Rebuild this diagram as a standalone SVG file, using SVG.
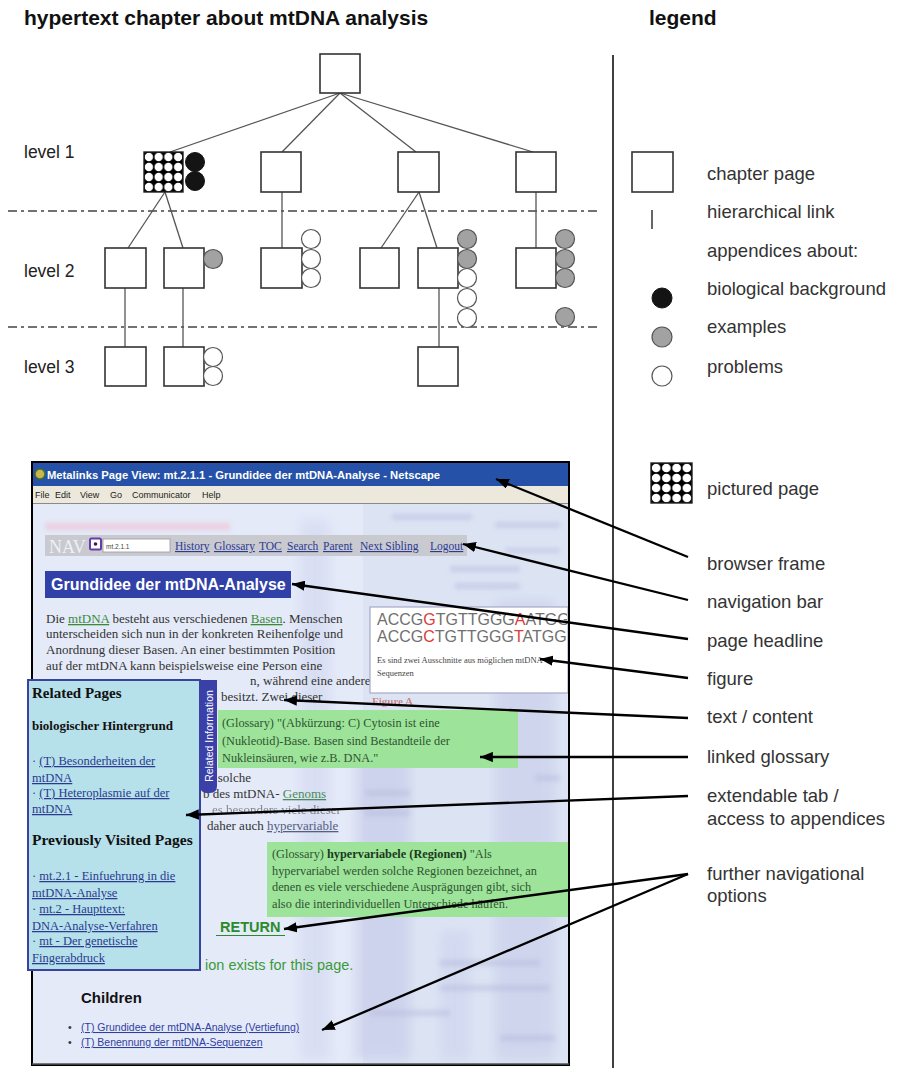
<svg xmlns="http://www.w3.org/2000/svg" width="898" height="1068" viewBox="0 0 898 1068">
<defs>
<style>
.box{fill:#fff;stroke:#333;stroke-width:1.6}
.chk{fill:url(#chk);stroke:#222;stroke-width:1.4}
.lnk{stroke:#555;stroke-width:1.3;fill:none}
.dash{stroke:#444;stroke-width:1.6;stroke-dasharray:9 4 3 4;fill:none}
.bio{fill:#141414;stroke:#141414;stroke-width:1}
.ex{fill:#a2a2a2;stroke:#555;stroke-width:1.2}
.pr{fill:#fff;stroke:#555;stroke-width:1.2}
.ttl{font-family:"Liberation Sans",Arial,sans-serif;font-weight:bold;font-size:21px;fill:#111}
.lvl{font-family:"Liberation Sans",Arial,sans-serif;font-size:17.5px;fill:#222}
.lbl{font-family:"Liberation Sans",Arial,sans-serif;font-size:18.5px;fill:#333}
.arr{stroke:#000;stroke-width:2.3;fill:none;marker-end:url(#ah)}
.ser{font-family:"Liberation Serif","Times New Roman",serif}
.san{font-family:"Liberation Sans",Arial,sans-serif}
.para{font-family:"Liberation Serif","Times New Roman",serif;font-size:13px;fill:#333}
.gl{font-family:"Liberation Serif","Times New Roman",serif;font-size:12.3px;fill:#2d5530}
.rel{font-family:"Liberation Serif","Times New Roman",serif;font-size:12.5px;fill:#2a3a90}
.u{text-decoration:underline}
.navl{font-family:"Liberation Serif","Times New Roman",serif;font-size:11.5px;fill:#2a3a90;text-decoration:underline}
</style>
<pattern id="chk" patternUnits="objectBoundingBox" patternContentUnits="objectBoundingBox" width="0.25" height="0.25">
<rect x="0" y="0" width="0.25" height="0.25" fill="#000"/>
<circle cx="0.125" cy="0.125" r="0.106" fill="#fff"/>
</pattern>
<marker id="ah" viewBox="0 0 10 8" refX="10" refY="4" markerWidth="5.6" markerHeight="4.5" orient="auto">
<path d="M0,0 L10,4 L0,8 z" fill="#000"/>
</marker>
<filter id="blur" x="-20%" y="-50%" width="140%" height="200%"><feGaussianBlur stdDeviation="2.5"/></filter>
<filter id="blur2" x="-20%" y="-20%" width="140%" height="140%"><feGaussianBlur stdDeviation="6"/></filter>
<clipPath id="figclip"><rect x="371" y="608" width="196" height="84"/></clipPath>
<clipPath id="winclip"><rect x="33" y="463" width="535" height="601"/></clipPath>
</defs>
<rect x="0" y="0" width="898" height="1068" fill="#fff"/>

<!-- headings -->
<text class="ttl" x="24" y="25">hypertext chapter about mtDNA analysis</text>
<text class="ttl" x="649" y="25">legend</text>
<text class="lvl" x="24" y="158">level 1</text>
<text class="lvl" x="24" y="277">level 2</text>
<text class="lvl" x="24" y="373">level 3</text>

<!-- level separators -->
<g id="separators">
<line class="dash" x1="8" y1="211" x2="598" y2="211"/>
<line class="dash" x1="8" y1="327" x2="598" y2="327"/>
</g>

<!-- hierarchical links -->
<g id="links">
<line class="lnk" x1="340" y1="93" x2="170" y2="152"/>
<line class="lnk" x1="340" y1="93" x2="282" y2="152"/>
<line class="lnk" x1="340" y1="93" x2="416" y2="152"/>
<line class="lnk" x1="340" y1="93" x2="533" y2="152"/>
<line class="lnk" x1="165" y1="192" x2="128" y2="248"/>
<line class="lnk" x1="165" y1="192" x2="183" y2="248"/>
<line class="lnk" x1="282" y1="192" x2="282" y2="248"/>
<line class="lnk" x1="419" y1="192" x2="381" y2="248"/>
<line class="lnk" x1="419" y1="192" x2="437" y2="248"/>
<line class="lnk" x1="536" y1="192" x2="536" y2="248"/>
<line class="lnk" x1="125" y1="288" x2="125" y2="347"/>
<line class="lnk" x1="183" y1="288" x2="183" y2="347"/>
<line class="lnk" x1="439" y1="288" x2="439" y2="347"/>
</g>

<!-- nodes -->
<g id="root"><rect class="box" x="320" y="54" width="40" height="39"/></g>
<g id="l1a"><rect class="chk" x="144" y="152" width="39" height="40"/>
<circle class="bio" cx="195" cy="162" r="9.5"/><circle class="bio" cx="195" cy="181" r="9.5"/></g>
<g id="l1b"><rect class="box" x="261" y="152" width="40" height="40"/></g>
<g id="l1c"><rect class="box" x="398" y="152" width="41" height="40"/></g>
<g id="l1d"><rect class="box" x="516" y="152" width="40" height="40"/></g>

<g id="l2a"><rect class="box" x="105" y="248" width="41" height="40"/></g>
<g id="l2b"><rect class="box" x="164" y="248" width="40" height="40"/>
<circle class="ex" cx="213" cy="259" r="9.5"/></g>
<g id="l2c"><rect class="box" x="261" y="248" width="41" height="40"/>
<circle class="pr" cx="311" cy="239" r="9.5"/><circle class="pr" cx="311" cy="259" r="9.5"/><circle class="pr" cx="311" cy="278" r="9.5"/></g>
<g id="l2d"><rect class="box" x="360" y="248" width="39" height="40"/></g>
<g id="l2e"><rect class="box" x="418" y="248" width="40" height="40"/>
<circle class="ex" cx="467" cy="239" r="9.5"/><circle class="ex" cx="467" cy="259" r="9.5"/><circle class="pr" cx="467" cy="278" r="9.5"/><circle class="pr" cx="467" cy="298" r="9.5"/><circle class="pr" cx="467" cy="318" r="9.5"/></g>
<g id="l2f"><rect class="box" x="516" y="248" width="40" height="40"/>
<circle class="ex" cx="565" cy="239" r="9.5"/><circle class="ex" cx="565" cy="259" r="9.5"/><circle class="ex" cx="565" cy="278" r="9.5"/><circle class="ex" cx="565" cy="317" r="9.5"/></g>

<g id="l3a"><rect class="box" x="105" y="347" width="41" height="39"/></g>
<g id="l3b"><rect class="box" x="164" y="347" width="40" height="39"/>
<circle class="pr" cx="213" cy="357" r="9.5"/><circle class="pr" cx="213" cy="376" r="9.5"/></g>
<g id="l3c"><rect class="box" x="418" y="347" width="40" height="39"/></g>

<!-- legend -->
<g id="legend">
<line x1="613" y1="55" x2="613" y2="1068" stroke="#000" stroke-width="1.5"/>
<rect class="box" x="632" y="152" width="41" height="40"/>
<text class="lbl" x="707" y="180">chapter page</text>
<line x1="652" y1="210" x2="652" y2="229" stroke="#333" stroke-width="1.5"/>
<text class="lbl" x="707" y="218">hierarchical link</text>
<text class="lbl" x="707" y="257">appendices about:</text>
<circle class="bio" cx="662" cy="298" r="10"/>
<text class="lbl" x="707" y="295">biological background</text>
<circle class="ex" cx="662" cy="337" r="10"/>
<text class="lbl" x="707" y="333">examples</text>
<circle class="pr" cx="662" cy="376" r="10"/>
<text class="lbl" x="707" y="373">problems</text>
<rect class="chk" x="651" y="463" width="41" height="40"/>
<text class="lbl" x="707" y="495">pictured page</text>
</g>

<!-- screenshot -->
<g id="screenshot">
<rect x="32" y="462" width="537" height="603" fill="#dce4f4" stroke="#000" stroke-width="2"/>
<g clip-path="url(#winclip)">
<rect x="33" y="504" width="330" height="560" fill="#e4eaf8"/>
<g filter="url(#blur2)" opacity="0.55">
<rect x="355" y="720" width="55" height="340" fill="#c2c6e6"/>
<rect x="300" y="520" width="30" height="540" fill="#d0d6ee"/>
<rect x="495" y="600" width="60" height="460" fill="#c6cae8"/>
<rect x="440" y="930" width="30" height="130" fill="#ccd0ec"/>
</g>
<g filter="url(#blur)" opacity="0.5" fill="#b4b8dc">
<rect x="392" y="514" width="80" height="6"/>
<rect x="495" y="522" width="65" height="6"/>
<rect x="392" y="546" width="40" height="5"/>
<rect x="450" y="566" width="70" height="6"/>
<rect x="455" y="583" width="65" height="6"/>
<rect x="505" y="548" width="55" height="5"/>
<rect x="535" y="775" width="25" height="6"/>
<rect x="365" y="790" width="45" height="6"/>
<rect x="365" y="810" width="45" height="6"/>
<rect x="440" y="960" width="100" height="6"/>
<rect x="440" y="985" width="110" height="6"/>
<rect x="370" y="1010" width="80" height="6"/>
<rect x="500" y="1035" width="55" height="6"/>
</g>
<!-- title bar -->
<rect x="33" y="463" width="535" height="23" fill="#2552a8"/>
<circle cx="40" cy="474" r="5" fill="#c8b848" stroke="#4a6a30" stroke-width="1.5"/>
<text class="san" x="47" y="479" font-size="10.5" font-weight="bold" fill="#fff" textLength="393" lengthAdjust="spacingAndGlyphs">Metalinks Page View: mt.2.1.1 - Grundidee der mtDNA-Analyse - Netscape</text>
<!-- menu -->
<rect x="33" y="486" width="535" height="17" fill="#ede8dc"/>
<line x1="33" y1="503.5" x2="568" y2="503.5" stroke="#8a8a8a" stroke-width="1"/>
<g class="san" font-size="9" fill="#222">
<text x="35" y="498">File</text><text x="55" y="498">Edit</text><text x="80" y="498">View</text><text x="110" y="498">Go</text><text x="132" y="498">Communicator</text><text x="202" y="498">Help</text>
</g>
<rect x="45" y="523" width="185" height="7" fill="#f2b8cc" opacity="0.55" filter="url(#blur)"/>
<!-- nav bar -->
<rect x="45" y="535" width="422" height="21" fill="#c9c9d0"/>
<text class="ser" x="49" y="553" font-size="18" fill="#eef0f6">NAV</text>
<rect x="90" y="538.5" width="11" height="11" fill="#fff" stroke="#6a3aa8" stroke-width="2" rx="1.5"/>
<circle cx="95.5" cy="544" r="1.8" fill="#302050"/>
<rect x="103" y="539" width="67" height="13" fill="#fff" stroke="#9a9a9a" stroke-width="0.8"/>
<text class="san" x="106" y="549" font-size="6.5" fill="#444">mt.2.1.1</text>
<text class="navl" x="175" y="550">History</text>
<text class="navl" x="214" y="550">Glossary</text>
<text class="navl" x="259" y="550">TOC</text>
<text class="navl" x="287" y="550">Search</text>
<text class="navl" x="323" y="550">Parent</text>
<text class="navl" x="360" y="550">Next Sibling</text>
<text class="navl" x="430" y="550">Logout</text>
<!-- headline -->
<rect x="45" y="571" width="246" height="27" fill="#3040a6"/>
<text class="san" x="51" y="590" font-size="16" font-weight="bold" fill="#fff">Grundidee der mtDNA-Analyse</text>
<!-- paragraph -->
<text class="para" x="46" y="623">Die <tspan class="u" fill="#3a8a3a">mtDNA</tspan> besteht aus verschiedenen <tspan class="u" fill="#3a8a3a">Basen</tspan>. Menschen</text>
<text class="para" x="46" y="638">unterscheiden sich nun in der konkreten Reihenfolge und</text>
<text class="para" x="46" y="654">Anordnung dieser Basen. An einer bestimmten Position</text>
<text class="para" x="46" y="670">auf der mtDNA kann beispielsweise eine Person eine</text>
<text class="para" x="250" y="685">n, während eine andere</text>
<text class="para" x="221" y="701">besitzt. Zwei dieser</text>
<!-- figure -->
<rect x="370" y="607" width="198" height="86" fill="#fff" stroke="#a8a8c8" stroke-width="1.2"/>
<g clip-path="url(#figclip)">
<text class="san" x="377" y="625" font-size="16" fill="#707070">ACCG<tspan fill="#e03a3a">G</tspan>TGTTGGG<tspan fill="#e03a3a">A</tspan>ATGG</text>
<text class="san" x="377" y="642" font-size="16" fill="#707070">ACCG<tspan fill="#e03a3a">C</tspan>TGTTGGG<tspan fill="#e03a3a">T</tspan>ATGG</text>
<text class="ser" x="377" y="663" font-size="8.5" fill="#444">Es sind zwei Ausschnitte aus möglichen mtDNA-</text>
<text class="ser" x="377" y="676" font-size="8.5" fill="#444">Sequenzen</text>
</g>
<text class="ser" x="372" y="705" font-size="11" font-weight="bold" fill="#c04848" opacity="0.6">Figure A</text>
<!-- glossary 1 -->
<rect x="218" y="710" width="300" height="58" fill="#9ee39a"/>
<text class="gl" x="222" y="727">(Glossary) "(Abkürzung: C) Cytosin ist eine</text>
<text class="gl" x="222" y="745">(Nukleotid)-Base. Basen sind Bestandteile der</text>
<text class="gl" x="222" y="762">Nukleinsäuren, wie z.B. DNA."</text>
<text class="para" x="208" y="782">n solche</text>
<text class="para" x="203" y="798">b des mtDNA- <tspan class="u" fill="#4a8a5a">Genoms</tspan></text>
<text class="para" x="212" y="814" opacity="0.55">es besonders viele dieser</text>
<text class="para" x="207" y="830">daher auch <tspan class="u" fill="#556080">hypervariable</tspan></text>
<!-- glossary 2 -->
<rect x="267" y="842" width="301" height="75" fill="#9ee39a"/>
<text class="gl" x="272" y="858">(Glossary) <tspan font-weight="bold" fill="#1a3a1a">hypervariabele (Regionen)</tspan> "Als</text>
<text class="gl" x="272" y="875">hypervariabel werden solche Regionen bezeichnet, an</text>
<text class="gl" x="272" y="891">denen es viele verschiedene Ausprägungen gibt, sich</text>
<text class="gl" x="272" y="908">also die interindividuellen Unterschiede häufen.</text>
<!-- return etc -->
<text class="san" x="220" y="932" font-size="14.5" font-weight="bold" fill="#2b8a2b">RETURN</text>
<line x1="216" y1="935.5" x2="285" y2="935.5" stroke="#2b8a2b" stroke-width="1.2"/>
<text class="san" x="205" y="970" font-size="14.5" fill="#3a9a3a">ion exists for this page.</text>
<text class="san" x="81" y="1003" font-size="15" font-weight="bold" fill="#111">Children</text>
<text class="san" x="68" y="1031" font-size="10.5" fill="#333">•</text>
<text class="san u" x="81" y="1031" font-size="10.5" fill="#3040a0">(T) Grundidee der mtDNA-Analyse (Vertiefung)</text>
<text class="san" x="68" y="1046" font-size="10.5" fill="#333">•</text>
<text class="san u" x="81" y="1046" font-size="10.5" fill="#3040a0">(T) Benennung der mtDNA-Sequenzen</text>
</g>
<!-- related panel -->
<g id="related-panel">
<rect x="28" y="680" width="172" height="290" fill="#b6e0ea" stroke="#3a42a0" stroke-width="2"/>
<path d="M200,680 L217,680 L217,786 Q217,793 210,793 L207,793 Q200,793 200,786 Z" fill="#3a40a8"/>
<text class="san" x="0" y="0" font-size="10.5" fill="#fff" text-anchor="middle" transform="translate(212.5,736) rotate(-90)">Related Information</text>
<text class="ser" x="32" y="698" font-size="15" font-weight="bold" fill="#111">Related Pages</text>
<text class="ser" x="32" y="730" font-size="13" font-weight="bold" fill="#111">biologischer Hintergrund</text>
<text class="rel" x="32" y="765">· <tspan class="u">(T) Besonderheiten der</tspan></text>
<text class="rel u" x="32" y="782">mtDNA</text>
<text class="rel" x="32" y="797">· <tspan class="u">(T) Heteroplasmie auf der</tspan></text>
<text class="rel u" x="32" y="813">mtDNA</text>
<text class="ser" x="32" y="845" font-size="15.5" font-weight="bold" fill="#111">Previously Visited Pages</text>
<text class="rel" x="32" y="880">· <tspan class="u">mt.2.1 - Einfuehrung in die</tspan></text>
<text class="rel u" x="32" y="897">mtDNA-Analyse</text>
<text class="rel" x="32" y="913">· <tspan class="u">mt.2 - Haupttext:</tspan></text>
<text class="rel u" x="32" y="930">DNA-Analyse-Verfahren</text>
<text class="rel" x="32" y="945">· <tspan class="u">mt - Der genetische</tspan></text>
<text class="rel u" x="32" y="962">Fingerabdruck</text>
</g>
<line x1="32" y1="1064" x2="569" y2="1064" stroke="#555" stroke-width="1.5"/>
</g>

<!-- callout labels -->
<g id="callout-labels">
<text class="lbl" x="707" y="570">browser frame</text>
<text class="lbl" x="707" y="608">navigation bar</text>
<text class="lbl" x="707" y="647">page headline</text>
<text class="lbl" x="707" y="685">figure</text>
<text class="lbl" x="707" y="723">text / content</text>
<text class="lbl" x="707" y="763">linked glossary</text>
<text class="lbl" x="707" y="802">extendable tab /</text>
<text class="lbl" x="707" y="825">access to appendices</text>
<text class="lbl" x="707" y="880">further navigational</text>
<text class="lbl" x="707" y="902">options</text>
</g>

<!-- callout arrows -->
<g id="callouts">
<line class="arr" x1="688" y1="557" x2="496" y2="479"/>
<line class="arr" x1="688" y1="600" x2="463" y2="544"/>
<line class="arr" x1="688" y1="639" x2="292" y2="584"/>
<line class="arr" x1="688" y1="678" x2="540" y2="659"/>
<line class="arr" x1="688" y1="718" x2="284" y2="700"/>
<line class="arr" x1="688" y1="757" x2="480" y2="757"/>
<line class="arr" x1="688" y1="796" x2="186" y2="815"/>
<line class="arr" x1="688" y1="874" x2="284" y2="929"/>
<line class="arr" x1="688" y1="874" x2="322" y2="1030"/>
</g>
</svg>
